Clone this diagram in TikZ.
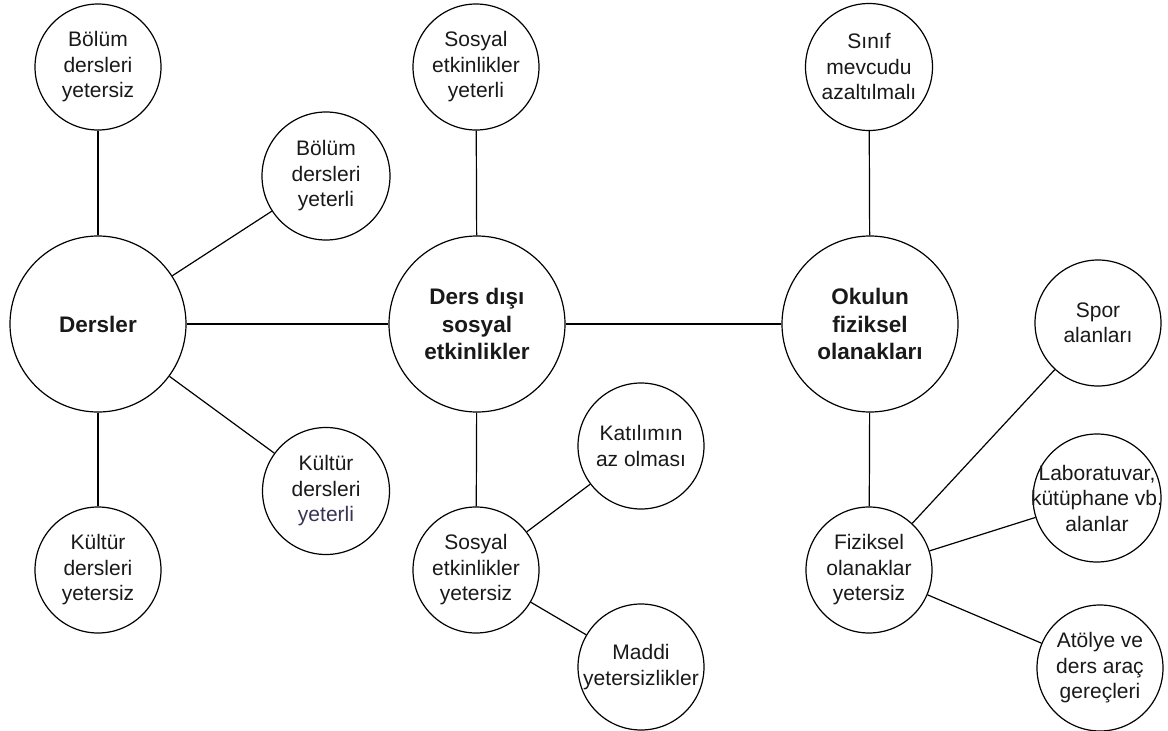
\documentclass[tikz,border=0pt]{standalone}
\usepackage{fontspec}
\setmainfont{Liberation Sans}
\definecolor{slatetxt}{RGB}{55,52,85}
\begin{document}
\begin{tikzpicture}[x=1pt,y=-1pt,
  circ/.style={circle,draw=black,line width=1.2pt,fill=white,inner sep=0pt},
  txt/.style={align=center,inner sep=0pt,text=black!90,font=\fontsize{21}{25.5}\selectfont},
  btxt/.style={align=center,inner sep=0pt,text=black!90,font=\fontsize{22.5}{27.5}\selectfont\bfseries},
  conn/.style={draw=black,line width=1.2pt}]
\useasboundingbox (0,0) rectangle (1168,731);
% circles
\node[circ,minimum size=176pt] (dersler) at (98,324) {};
\node[circ,minimum size=126pt] (bdy) at (98,67) {};
\node[circ,minimum size=128pt] (bdt) at (326,176) {};
\node[circ,minimum size=127pt] (kdt) at (326,491) {};
\node[circ,minimum size=126pt] (kdy) at (98,570) {};
\node[circ,minimum size=176pt] (dds) at (477,324) {};
\node[circ,minimum size=126pt] (sey) at (476,67) {};
\node[circ,minimum size=126pt] (set) at (476,570) {};
\node[circ,minimum size=126pt] (kat) at (641,446) {};
\node[circ,minimum size=126pt] (mad) at (641,667) {};
\node[circ,minimum size=176pt] (ofo) at (870,324) {};
\node[circ,minimum size=127pt] (sin) at (869,67) {};
\node[circ,minimum size=126pt] (fiz) at (869,570) {};
\node[circ,minimum size=126pt] (spo) at (1098,323) {};
\node[circ,minimum size=128pt] (lab) at (1097,498) {};
\node[circ,minimum size=126pt] (ato) at (1100,668) {};
% connectors
\draw[conn] (dersler) -- (bdy);
\draw[conn] (dersler) -- (bdt);
\draw[conn] (dersler) -- (kdt);
\draw[conn] (dersler) -- (kdy);
\draw[conn] (dersler) -- (dds);
\draw[conn] (dds) -- (sey);
\draw[conn] (dds) -- (set);
\draw[conn] (set) -- (kat);
\draw[conn] (set) -- (mad);
\draw[conn] (dds) -- (ofo);
\draw[conn] (ofo) -- (sin);
\draw[conn] (ofo) -- (fiz);
\draw[conn] (fiz) -- (spo);
\draw[conn] (fiz) -- (lab);
\draw[conn] (fiz) -- (ato);
% texts
\node[btxt] (dersler-t) at (dersler) {Dersler};
\node[txt] (bdy-t) at (bdy) {Bölüm\\dersleri\\yetersiz};
\node[txt] (bdt-t) at (bdt) {Bölüm\\dersleri\\yeterli};
\node[txt] (kdt-t) at (kdt) {Kültür\\dersleri\\\textcolor{slatetxt}{yeterli}};
\node[txt] (kdy-t) at (kdy) {Kültür\\dersleri\\yetersiz};
\node[btxt] (dds-t) at (dds) {Ders dışı\\sosyal\\etkinlikler};
\node[txt] (sey-t) at (sey) {Sosyal\\etkinlikler\\yeterli};
\node[txt] (set-t) at (set) {Sosyal\\etkinlikler\\yetersiz};
\node[txt] (kat-t) at (kat) {Katılımın\\az olması};
\node[txt] (mad-t) at (mad) {Maddi\\yetersizlikler};
\node[btxt] (ofo-t) at (ofo) {Okulun\\fiziksel\\olanakları};
\node[txt] (sin-t) at (sin) {Sınıf\\mevcudu\\azaltılmalı};
\node[txt] (fiz-t) at (fiz) {Fiziksel\\olanaklar\\yetersiz};
\node[txt] (spo-t) at (spo) {Spor\\alanları};
\node[txt] (lab-t) at (lab) {Laboratuvar,\\kütüphane vb.\\alanlar};
\node[txt] (ato-t) at (ato) {Atölye ve\\ders araç\\gereçleri};
\end{tikzpicture}
\end{document}
